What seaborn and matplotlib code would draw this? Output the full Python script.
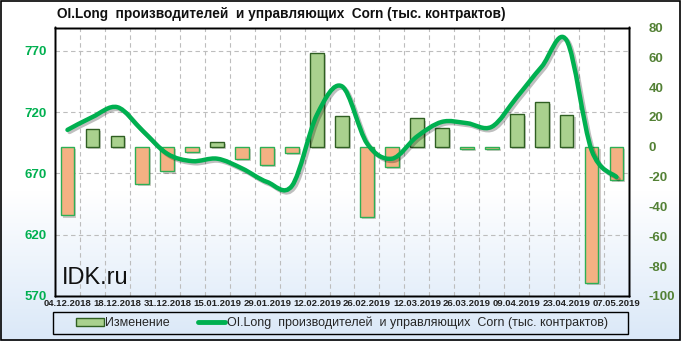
import numpy as np
import pandas as pd
import matplotlib
matplotlib.use("Agg")
import matplotlib.pyplot as plt
import seaborn as sns
from matplotlib.path import Path
from matplotlib.patches import PathPatch, Patch, Rectangle
from matplotlib.lines import Line2D
import matplotlib.patheffects as pe

# ---------------- data ----------------
dates = ["04.12.2018", "11.12.2018", "18.12.2018", "24.12.2018", "31.12.2018",
         "08.01.2019", "15.01.2019", "22.01.2019", "29.01.2019", "05.02.2019",
         "12.02.2019", "19.02.2019", "26.02.2019", "05.03.2019", "12.03.2019",
         "19.03.2019", "26.03.2019", "02.04.2019", "09.04.2019", "16.04.2019",
         "23.04.2019", "30.04.2019", "07.05.2019"]
changes = [-46, 12, 7, -25, -16.5, -3.5, 3, -8, -12, -4, 63, 21, -47, -13.5,
           19, 12.5, -1.5, -1.5, 22, 30, 21.5, -91, -22.5]
oi_long = [705.5, 716, 724, 705, 686, 680, 682, 674, 663, 660, 718, 741, 694.5,
           682, 700, 712, 711, 708, 732, 757, 778.5, 689, 667]
left_ticks = [570, 620, 670, 720, 770]
right_ticks = [-100, -80, -60, -40, -20, 0, 20, 40, 60, 80]

title = "OI.Long  производителей  и управляющих  Corn (тыс. контрактов)"
bar_label = "Изменение"

# ---------------- style ----------------
sns.set_style("white")
plt.rcParams["font.family"] = ["Liberation Sans", "DejaVu Sans"]

C_LINE = "#00B050"
C_POS = "#A9D18E"
C_POS_EDGE = "#2F5F22"
C_NEG = "#F4B183"
C_NEG_EDGE = "#2DAF55"
C_LEFT = "#00B050"
C_RIGHT = "#538135"
C_GRID = "#BDBDBD"

fig = plt.figure(figsize=(6.81, 3.41), dpi=100)

# background gradient (white -> light blue at bottom)
bg = fig.add_axes([0, 0, 1, 1], zorder=-10)
n = 341
t = np.clip((np.arange(n) - 190) / (n - 190), 0, 1)[:, None]
top = np.array([1.0, 1.0, 1.0])
bot = np.array([0xDA, 0xE8, 0xF8]) / 255
grad = (top * (1 - t) + bot * t)[:, None, :]
bg.imshow(grad, aspect="auto", extent=[0, 1, 0, 1], origin="upper")
bg.set_axis_off()
fig.add_artist(Rectangle((0.001, 0.002), 0.997, 0.995, transform=fig.transFigure,
                         fill=False, edgecolor="black", lw=1.2))

pos = [55 / 681, 1 - 296 / 341, 574 / 681, 268.5 / 341]

# base axes: left scale + grid
ax = fig.add_axes(pos)
ax.patch.set_alpha(0)
ax.set_ylim(570, 789)
ax.set_yticks(left_ticks)
ax.set_yticklabels([str(v) for v in left_ticks], color=C_LEFT, fontweight="bold", fontsize=9.5)
ax.yaxis.grid(True, color=C_GRID, lw=0.8, ls=(0, (4, 3)))

# bars axis
ax2 = ax.twinx()
df = pd.DataFrame({"date": dates, "change": changes})
df["sign"] = np.where(df["change"] >= 0, "pos", "neg")
sns.barplot(data=df, x="date", y="change", hue="sign", dodge=False,
            palette={"pos": C_POS, "neg": C_NEG}, width=0.55, ax=ax2,
            legend=False, saturation=1)
for p in ax2.patches:
    h = p.get_height()
    if h >= 0:
        p.set_edgecolor(C_POS_EDGE)
    else:
        p.set_edgecolor(C_NEG_EDGE)
    p.set_linewidth(1.0)
    p.set_path_effects([pe.SimplePatchShadow(offset=(1.5, -1.5), alpha=0.25), pe.Normal()])
ax2.set_ylim(-100, 80)
ax2.set_yticks(right_ticks)
ax2.set_yticklabels([str(v) for v in right_ticks], color=C_RIGHT, fontweight="bold", fontsize=9.5)
ax2.set_ylabel("")
ax2.set_xlabel("")

# line axis on top
ax3 = ax.twinx()
ax3.set_ylim(570, 789)
ax3.yaxis.set_visible(False)
xs = np.arange(len(oi_long), dtype=float)
ys = np.array(oi_long, dtype=float)
verts = [(xs[0], ys[0])]
codes = [Path.MOVETO]
for i in range(len(xs) - 1):
    p0 = (xs[max(i - 1, 0)], ys[max(i - 1, 0)])
    p1 = (xs[i], ys[i])
    p2 = (xs[i + 1], ys[i + 1])
    p3 = (xs[min(i + 2, len(xs) - 1)], ys[min(i + 2, len(xs) - 1)])
    c1 = (p1[0] + (p2[0] - p0[0]) / 6, p1[1] + (p2[1] - p0[1]) / 6)
    c2 = (p2[0] - (p3[0] - p1[0]) / 6, p2[1] - (p3[1] - p1[1]) / 6)
    verts += [c1, c2, p2]
    codes += [Path.CURVE4] * 3
line = PathPatch(Path(verts, codes), fill=False, edgecolor=C_LINE, lw=3.2,
                 capstyle="round", joinstyle="round", transform=ax3.transData)
line.set_path_effects([pe.SimpleLineShadow(offset=(1.5, -1.5), alpha=0.25), pe.Normal()])
ax3.add_patch(line)

# x axis
for a in (ax, ax2, ax3):
    a.set_xlim(-0.5, len(dates) - 0.5)
ax.set_xticks(np.arange(0, len(dates), 2))
ax.set_xticklabels(dates[::2], fontsize=6.8, fontweight="bold", color="#222222")
ax.set_xticks(np.arange(0.5, len(dates) - 1, 1), minor=True)
ax.xaxis.grid(True, which="minor", color=C_GRID, lw=0.8, ls=(0, (4, 3)))
ax.xaxis.grid(False, which="major")
ax.tick_params(axis="x", which="both", length=0, pad=2)
ax.tick_params(axis="y", length=0, pad=6)
ax2.tick_params(axis="y", length=0, pad=14)
for a in (ax, ax2, ax3):
    for s in a.spines.values():
        s.set_color("black")
        s.set_linewidth(1.0)

# title and watermark
fig.text(57 / 681, 1 - 14 / 341, title, ha="left", va="center", fontsize=9.8,
         fontweight="bold", color="#111111")
fig.text(62 / 681, 1 - 284 / 341, "IDK.ru", ha="left", va="baseline", fontsize=17,
         color="#111111")

# legend
handles = [Patch(facecolor=C_POS, edgecolor=C_POS_EDGE, lw=1.0),
           Line2D([], [], color=C_LINE, lw=3.5)]
leg = fig.legend(handles, [bar_label, title], loc="center",
                 bbox_to_anchor=(342 / 681, 1 - 323 / 341), ncol=2, fontsize=9,
                 frameon=False, handlelength=2.2, handletextpad=0.15,
                 columnspacing=2.2, borderpad=0.2, borderaxespad=0)
fig.add_artist(Rectangle((53 / 681, 1 - 334 / 341), 575 / 681, 22 / 341,
                         transform=fig.transFigure, fill=False,
                         edgecolor="black", lw=1.0))

fig.savefig("out.png", dpi=100)
